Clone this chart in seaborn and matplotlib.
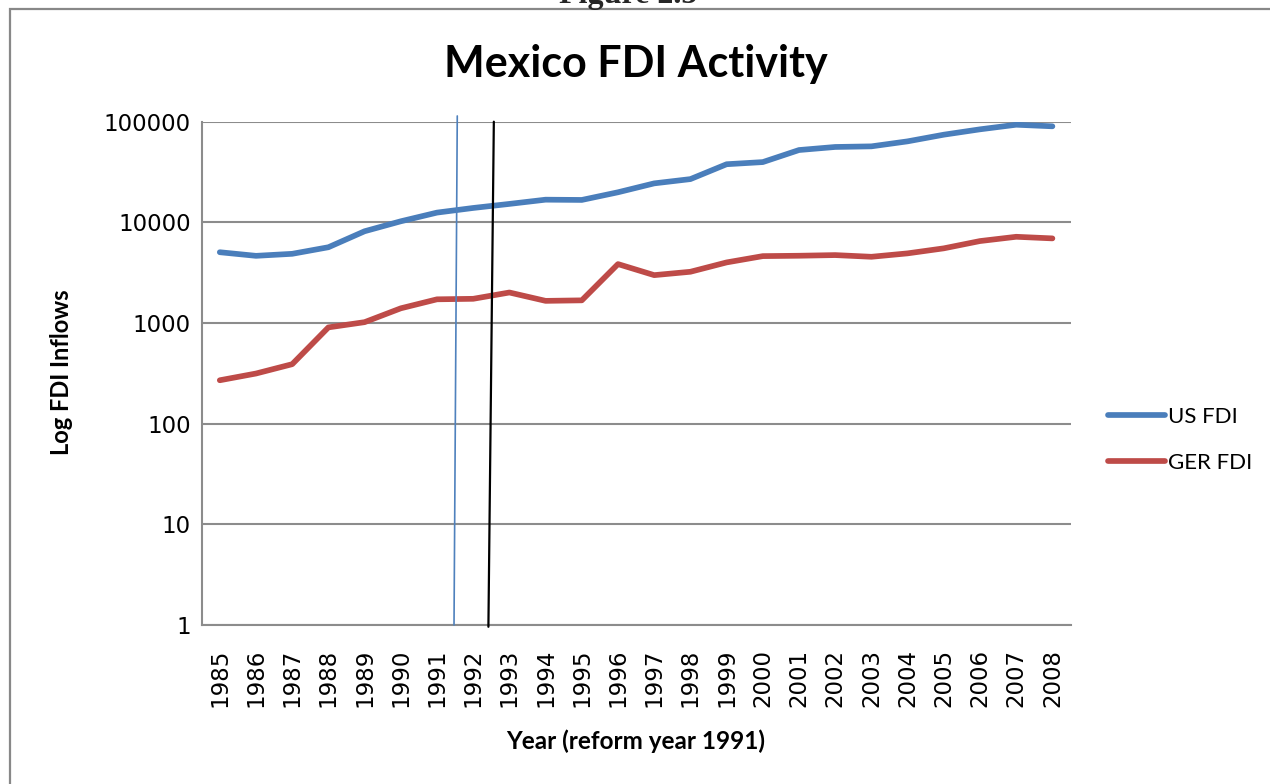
import matplotlib
matplotlib.use("Agg")
import matplotlib.pyplot as plt
import seaborn as sns
import pandas as pd
from matplotlib.patches import Rectangle
from matplotlib.lines import Line2D

# ---------------- data ----------------
years = list(range(1985, 2009))
us_fdi = [5050, 4650, 4870, 5660, 8160, 10250, 12500, 13900, 15250, 16800,
          16700, 19900, 24400, 26900, 37800, 39700, 52300, 56100, 56900,
          63800, 74300, 84000, 93300, 90000]
ger_fdi = [270, 315, 390, 905, 1020, 1400, 1720, 1740, 2010, 1660, 1680,
           3850, 2990, 3230, 4000, 4620, 4660, 4730, 4550, 4920, 5520, 6520,
           7190, 6930]
series_names = ["US FDI", "GER FDI"]
y_ticks = [1, 10, 100, 1000, 10000, 100000]
y_tick_labels = ["1", "10", "100", "1000", "10000", "100000"]

# hand-drawn marker lines around the reform year (x in year units, y in values)
blue_marker_x = [1991.56, 1991.47]
blue_marker_y = [114000, 1]
black_marker_x = [1992.57, 1992.42]
black_marker_y = [100000, 0.96]

df = pd.DataFrame({
    "Year": years * 2,
    "FDI": us_fdi + ger_fdi,
    "Series": [series_names[0]] * len(years) + [series_names[1]] * len(years),
})

# ---------------- style ----------------
sns.set_style("white")
plt.rcParams["font.family"] = ["Lato", "DejaVu Sans"]

BLUE = "#4A7EBB"
RED = "#BE4B48"
GRID = "#8C8C8C"

fig = plt.figure(figsize=(12.7, 7.84), dpi=100)
ax = fig.add_axes([201.7 / 1270, 1 - 625 / 784, (1070.5 - 201.7) / 1270, (625 - 121.7) / 784])

sns.lineplot(data=df, x="Year", y="FDI", hue="Series", palette=[BLUE, RED],
             linewidth=4.1, ax=ax, legend=True)
for ln in ax.lines:
    ln.set_solid_capstyle("round")
    ln.set_solid_joinstyle("round")

ax.set_yscale("log")
ax.set_ylim(1, 100000)
ax.set_xlim(years[0] - 0.5, years[-1] + 0.5)

tick_font = {"family": ["DejaVu Sans"], "size": 16.5, "color": "black"}
ax.set_yticks(y_ticks)
ax.set_yticklabels(y_tick_labels, fontdict=tick_font)
ax.yaxis.set_minor_locator(matplotlib.ticker.NullLocator())
ax.set_xticks(years)
ax.set_xticklabels([str(y) for y in years], rotation=90, fontdict=tick_font)
ax.set_xticks([y - 0.5 for y in years] + [years[-1] + 0.5], minor=True)

ax.tick_params(axis="x", which="major", length=0, pad=17)
ax.tick_params(axis="x", which="minor", length=6, width=1.5, color=GRID, direction="out")
ax.tick_params(axis="y", which="major", length=6, width=1.5, color=GRID, pad=2,
               direction="out")

ax.grid(axis="y", color=GRID, linewidth=1.5)
ax.grid(axis="x", visible=False)
ax.set_axisbelow(True)
for s in ["top", "right"]:
    ax.spines[s].set_visible(False)
for s in ["left", "bottom"]:
    ax.spines[s].set_color(GRID)
    ax.spines[s].set_linewidth(1.5)

# marker lines
ax.plot(blue_marker_x, blue_marker_y, color="#4F81BD", linewidth=1.2, clip_on=False, zorder=3)
ax.plot(black_marker_x, black_marker_y, color="black", linewidth=1.6, clip_on=False, zorder=3)

ax.set_xlabel("Year (reform year 1991)", fontsize=17.5, fontweight="bold", color="black")
ax.xaxis.set_label_coords(0.5, -0.208)
ax.set_ylabel("Log FDI Inflows", fontsize=17, fontweight="bold", color="black")
ax.yaxis.set_label_coords(-0.148, 0.503)

ax.set_title("Mexico FDI Activity", fontsize=31, fontweight="bold", pad=32, color="black")

handles = [Line2D([0], [0], color=BLUE, linewidth=4.1, solid_capstyle="round"),
           Line2D([0], [0], color=RED, linewidth=4.1, solid_capstyle="round")]
leg = ax.legend(handles, series_names, loc="center left",
                bbox_to_anchor=(1108 / 1270, 1 - 440 / 784), bbox_transform=fig.transFigure,
                frameon=False, fontsize=16, handlelength=2.55, handletextpad=0.15,
                labelspacing=1.15, borderpad=0, borderaxespad=0)
for t in leg.get_texts():
    t.set_color("black")

# outer frame and cut-off caption
fig.patches.append(Rectangle((9.5 / 1270, -0.2), 1.5, 1.2 - 9.5 / 784,
                             transform=fig.transFigure, fill=False,
                             edgecolor="#888888", linewidth=1.6))
fig.text(628 / 1270, 1 - 3.0 / 784, "Figure 2.5", ha="center", va="baseline",
         fontsize=23, fontweight="bold", family=["Liberation Serif"])

fig.savefig("out.png", dpi=100)
